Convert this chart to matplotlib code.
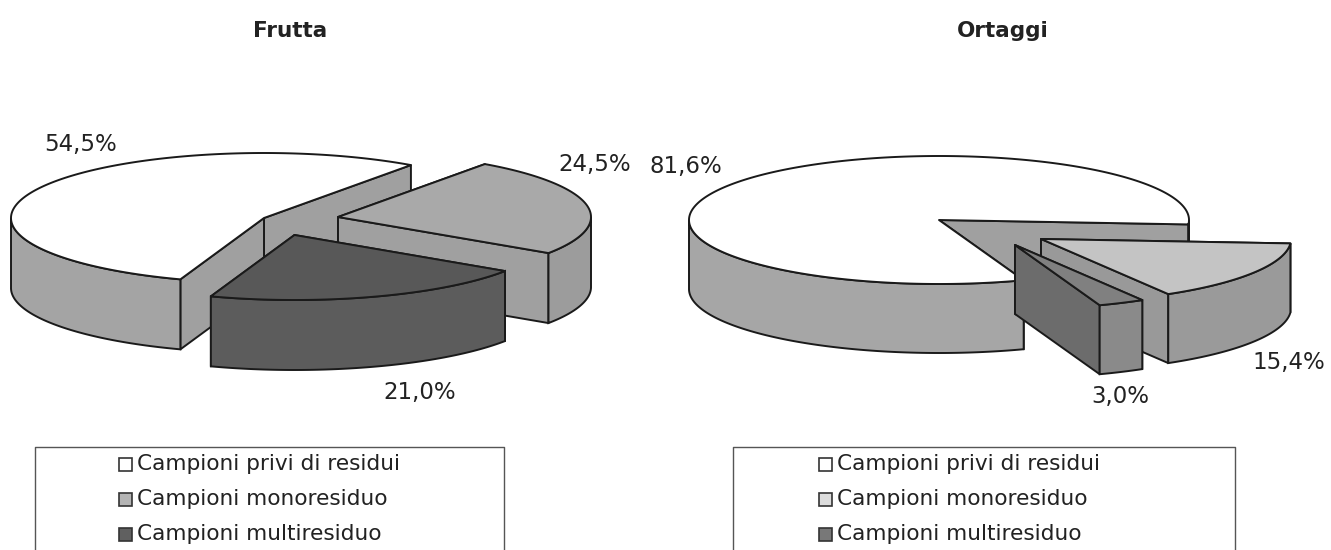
import numpy as np
import matplotlib
matplotlib.use('Agg')
import matplotlib.pyplot as plt
from matplotlib.patches import Polygon, Rectangle

# Values (percent)
categories = ['Campioni privi di residui', 'Campioni monoresiduo', 'Campioni multiresiduo']
frutta_values = [54.5, 24.5, 21.0]
ortaggi_values = [81.6, 15.4, 3.0]
frutta_labels = ['54,5%', '24,5%', '21,0%']
ortaggi_labels = ['81,6%', '15,4%', '3,0%']

EDGE = '#1a1a1a'
FONT = 'DejaVu Sans'
TEXT = '#222222'
LW = 1.4


def arc(cx, cy, rx, ry, t, drop=0):
    r = np.radians(t)
    return np.column_stack([cx + rx * np.cos(r), cy - ry * np.sin(r) + drop])


def draw_slice(ax, cx, cy, rx, ry, depth, lo, hi, top_c, wall_c, rim_c):
    # radial walls, back one first
    walls = []
    for t in (lo, hi):
        p = arc(cx, cy, rx, ry, np.array([t]))[0]
        walls.append(np.array([[cx, cy], p, p + [0, depth], [cx, cy + depth]]))
    walls.sort(key=lambda w: w[:, 1].mean())
    for w in walls:
        ax.add_patch(Polygon(w, fc=wall_c, ec=EDGE, lw=LW, joinstyle='round'))

    # outer rim, only the part facing the viewer
    ts = np.linspace(lo, hi, 400)
    front = np.sin(np.radians(ts)) < 0
    edges = np.flatnonzero(np.diff(front.astype(int)))
    for run in np.split(np.arange(len(ts)), edges + 1):
        if front[run[0]] and len(run) > 1:
            a = arc(cx, cy, rx, ry, ts[run])
            b = arc(cx, cy, rx, ry, ts[run], depth)
            ax.add_patch(Polygon(np.vstack([a, b[::-1]]), fc=rim_c, ec=EDGE, lw=LW))

    # top face
    pts = np.vstack([[cx, cy], arc(cx, cy, rx, ry, ts)])
    ax.add_patch(Polygon(pts, fc=top_c, ec=EDGE, lw=LW, joinstyle='round'))


def draw_pie(ax, values, cx, cy, rx, ry, depth, start, offsets, tops, walls, rims):
    a = start
    for v, off, tc, wc, rc in zip(values, offsets, tops, walls, rims):
        sweep = v / 100 * 360
        draw_slice(ax, cx + off[0], cy + off[1], rx, ry, depth, a - sweep, a, tc, wc, rc)
        a -= sweep


def draw_legend(ax, x0, x1, y0, swatch_x, swatches):
    ax.plot([x0, x0, x1, x1], [550, y0, y0, 550], color='#555555', lw=1.0, clip_on=True)
    for i, (name, col) in enumerate(zip(categories, swatches)):
        y = 464 + i * 35
        ax.add_patch(Rectangle((swatch_x, y - 6.5), 13, 13, fc=col, ec='#333333', lw=1.2))
        ax.text(swatch_x + 18, y, name, fontsize=15.6, family=FONT, color=TEXT, va='center', ha='left')


fig = plt.figure(figsize=(13.31, 5.5), dpi=100)
ax = fig.add_axes([0, 0, 1, 1])
ax.set_xlim(0, 1331)
ax.set_ylim(550, 0)
ax.axis('off')

draw_pie(ax, frutta_values, 264, 218, 253, 65, 70, 250.7,
         [(0, 0), (74, -1), (30.5, 17)],
         ['#ffffff', '#a9a9a9', '#585858'],
         ['#a0a0a0', '#a0a0a0', '#585858'],
         ['#a4a4a4', '#9c9c9c', '#5c5c5c'])

draw_pie(ax, ortaggi_values, 937, 220, 250, 64, 69, 289.8,
         [(2, 0), (104, 19), (78, 25)],
         ['#ffffff', '#c4c4c4', '#808080'],
         ['#a0a0a0', '#999999', '#6c6c6c'],
         ['#a6a6a6', '#9a9a9a', '#8a8a8a'])

for x, y, s, in [(81, 145, frutta_labels[0]), (595, 164, frutta_labels[1]), (420, 392, frutta_labels[2]),
                 (686, 167, ortaggi_labels[0]), (1289, 362, ortaggi_labels[1]), (1120, 396, ortaggi_labels[2])]:
    ax.text(x, y, s, fontsize=16.5, family=FONT, color=TEXT, ha='center', va='center')

ax.text(290, 31, 'Frutta', fontsize=15.5, family=FONT, weight='bold', color=TEXT, ha='center', va='center')
ax.text(1003, 31, 'Ortaggi', fontsize=15.5, family=FONT, weight='bold', color=TEXT, ha='center', va='center')

draw_legend(ax, 35, 504, 447, 119, ['#ffffff', '#b4b4b4', '#606060'])
draw_legend(ax, 733, 1235, 447, 819, ['#ffffff', '#dcdcdc', '#787878'])

fig.savefig('out.png', dpi=100)
